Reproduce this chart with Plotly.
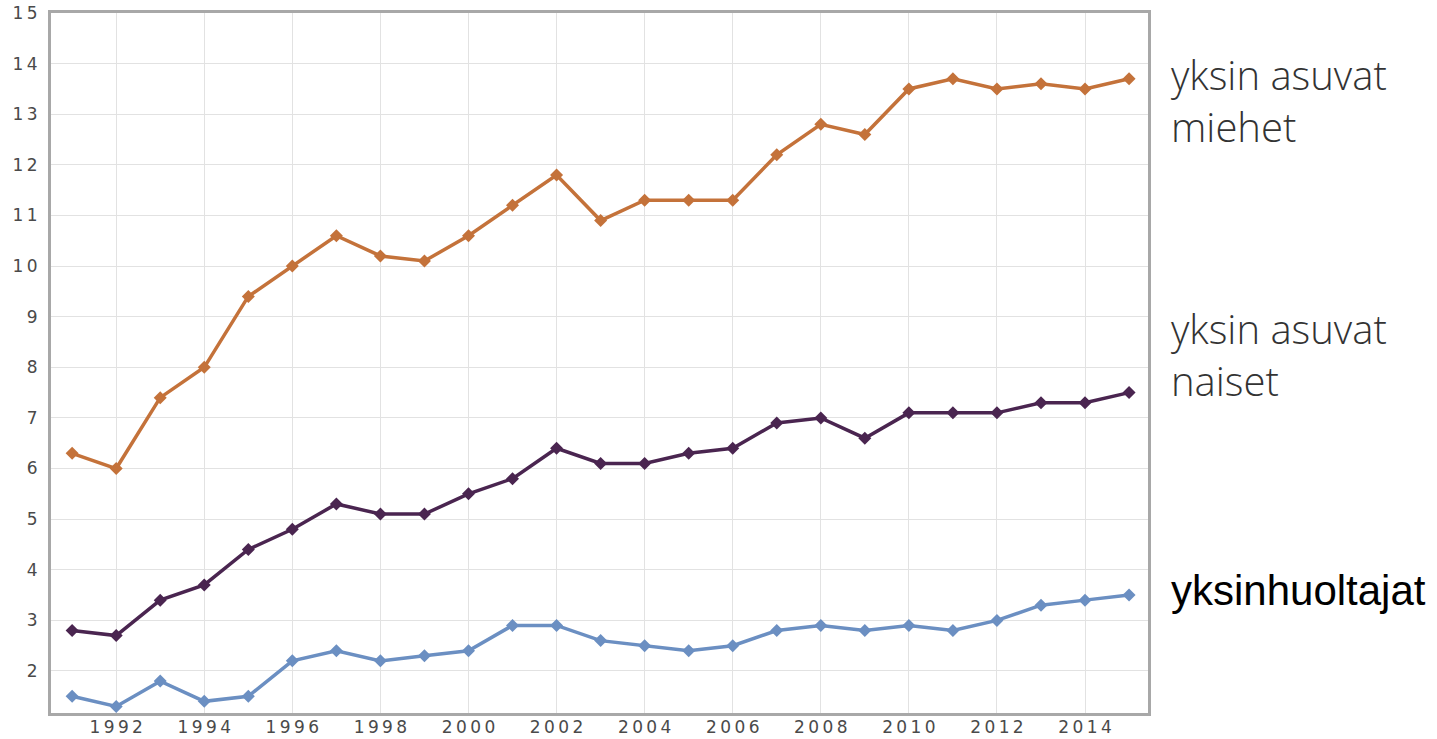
import plotly.graph_objects as go

years = list(range(1991, 2016))
men = [6.3, 6.0, 7.4, 8.0, 9.4, 10.0, 10.6, 10.2, 10.1, 10.6, 11.2, 11.8, 10.9, 11.3, 11.3, 11.3,
       12.2, 12.8, 12.6, 13.5, 13.7, 13.5, 13.6, 13.5, 13.7]
women = [2.8, 2.7, 3.4, 3.7, 4.4, 4.8, 5.3, 5.1, 5.1, 5.5, 5.8, 6.4, 6.1, 6.1, 6.3, 6.4,
         6.9, 7.0, 6.6, 7.1, 7.1, 7.1, 7.3, 7.3, 7.5]
single_parents = [1.5, 1.3, 1.8, 1.4, 1.5, 2.2, 2.4, 2.2, 2.3, 2.4, 2.9, 2.9, 2.6, 2.5, 2.4, 2.5,
                  2.8, 2.9, 2.8, 2.9, 2.8, 3.0, 3.3, 3.4, 3.5]
labels = ["yksin asuvat<br>miehet", "yksin asuvat<br>naiset", "yksinhuoltajat"]
x_ticks = list(range(1992, 2015, 2))
y_ticks = list(range(2, 16))

series = [
    (men, "#C4723A"),
    (women, "#4A2550"),
    (single_parents, "#6B8FC2"),
]

def spaced(v):
    # letter-spaced tick label (thin spaces between digits)
    return "\u2009".join(str(v))

fig = go.Figure()
for vals, col in series:
    fig.add_trace(go.Scatter(
        x=years, y=vals, mode="lines+markers",
        line=dict(color=col, width=3.5),
        marker=dict(symbol="diamond", size=10, color=col),
        showlegend=False, hoverinfo="x+y",
    ))

label_pos = [(13.28, "#333333", "Open Sans, Lato, sans-serif", 300, 40),
             (8.25, "#333333", "Open Sans, Lato, sans-serif", 300, 40),
             (3.6, "#000000", "Liberation Sans, Arial, sans-serif", 400, 42)]
for text, (ypos, col, fam, wt, sz) in zip(labels, label_pos):
    fig.add_annotation(
        x=1.0195, xref="paper", y=ypos, yref="y",
        text=text, showarrow=False, xanchor="left", yanchor="middle", align="left",
        font=dict(size=sz, color=col, family=fam, weight=wt),
    )

axis_common = dict(
    showgrid=True, gridcolor="#e2e2e2", gridwidth=1,
    showline=True, linecolor="#a8a8a8", linewidth=3, mirror=True,
    zeroline=False, ticks="", automargin=False,
    tickfont=dict(family="DejaVu Sans, Verdana, sans-serif", size=17, color="#4a4a4a"),
)
fig.update_xaxes(range=[1990.52, 2015.43], tickvals=x_ticks, ticktext=[spaced(v) for v in x_ticks],
                 ticklabelstandoff=-3, **axis_common)
fig.update_yaxes(range=[1.17, 15], tickvals=y_ticks, ticktext=[spaced(v) for v in y_ticks],
                 ticklabelstandoff=7, **axis_common)

fig.update_layout(
    width=1437, height=739,
    margin=dict(l=51, r=289, t=13, b=26, autoexpand=False),
    plot_bgcolor="white", paper_bgcolor="white",
)

fig.write_html("out.html", config={"displayModeBar": False},
               post_script="document.body.style.margin='0';document.body.style.padding='0';")
